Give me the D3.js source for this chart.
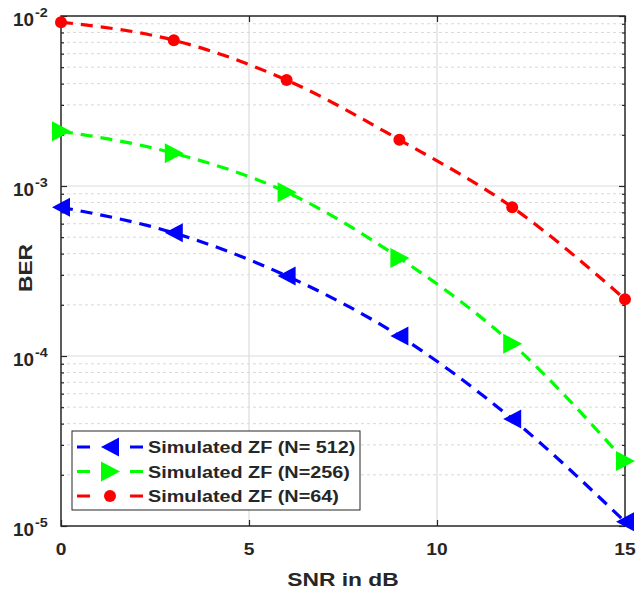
<!DOCTYPE html>
<html>
<head>
<meta charset="utf-8">
<script src="https://cdn.jsdelivr.net/npm/d3@7"></script>
<style>
  html, body { margin: 0; padding: 0; background: #fff; }
  svg { display: block; }
  text { font-family: "Liberation Sans", Arial, sans-serif; font-weight: bold; fill: #262626; }
</style>
</head>
<body>
<svg id="chart" width="638" height="591"></svg>
<script>
// SNR points (dB)
const snr = [0, 3, 6, 9, 12, 15];

// Bit error rate per antenna count
const berN512 = [7.5e-4, 5.3e-4, 2.96e-4, 1.31e-4, 4.26e-5, 1.06e-5];
const berN256 = [2.1e-3, 1.56e-3, 9.2e-4, 3.77e-4, 1.18e-4, 2.41e-5];
const berN64  = [9.2e-3, 7.2e-3, 4.2e-3, 1.87e-3, 7.5e-4, 2.16e-4];

const seriesNames = ["Simulated ZF (N= 512)", "Simulated ZF (N=256)", "Simulated ZF (N=64)"];
const seriesColors = ["#0000ff", "#00ff00", "#ff0000"];
const seriesMarkers = ["left", "right", "circle"];

const xTicks = [0, 5, 10, 15];
const yDecades = [-5, -4, -3, -2];

const series = [berN512, berN256, berN64].map((vals, i) => ({
  name: seriesNames[i], color: seriesColors[i], marker: seriesMarkers[i],
  points: snr.map((s, j) => ({ x: s, y: vals[j] }))
}));

const svg = d3.select("#chart");
const L = 61, R = 625, T = 16, B = 526;
const SX = 1.2; // horizontal stretch of glyphs

const x = d3.scaleLinear().domain([0, 15]).range([L, R]);
const y = d3.scaleLog().domain([1e-5, 1e-2]).range([B, T]);

// stretched text helper
function stext(g, px, py, anchor, size, sx = SX) {
  return g.append("text")
    .attr("transform", `translate(${px},${py}) scale(${sx},1)`)
    .attr("text-anchor", anchor)
    .style("font-size", size + "px");
}

// minor log grid
const minorVals = [];
yDecades.slice(0, -1).forEach(d => {
  for (let k = 2; k <= 9; k++) minorVals.push(k * Math.pow(10, d));
});
const grid = svg.append("g");
grid.selectAll("line.minor").data(minorVals).join("line")
  .attr("x1", L).attr("x2", R)
  .attr("y1", d => y(d)).attr("y2", d => y(d))
  .attr("stroke", "#d9d9d9").attr("stroke-width", 1)
  .attr("stroke-dasharray", "3,3");
// major grid
grid.selectAll("line.majy").data(yDecades.slice(1, -1)).join("line")
  .attr("x1", L).attr("x2", R)
  .attr("y1", d => y(Math.pow(10, d))).attr("y2", d => y(Math.pow(10, d)))
  .attr("stroke", "#dcdcdc").attr("stroke-width", 1.2);
grid.selectAll("line.majx").data(xTicks.slice(1, -1)).join("line")
  .attr("y1", T).attr("y2", B)
  .attr("x1", d => x(d)).attr("x2", d => x(d))
  .attr("stroke", "#dcdcdc").attr("stroke-width", 1.2);

// axes via d3 axis generators (ticks pointing inward)
const axisColor = "#262626";
function styleAxis(g) {
  g.select(".domain").remove();
  g.selectAll(".tick line").attr("stroke", axisColor).attr("stroke-width", 1.2);
  g.selectAll(".tick text").remove();
}
svg.append("g").attr("transform", `translate(0,${B})`)
  .call(d3.axisBottom(x).tickValues(xTicks).tickSize(-6)).call(styleAxis);
svg.append("g").attr("transform", `translate(0,${T})`)
  .call(d3.axisTop(x).tickValues(xTicks).tickSize(-6)).call(styleAxis);
const yMajor = yDecades.map(d => Math.pow(10, d));
svg.append("g").attr("transform", `translate(${L},0)`)
  .call(d3.axisLeft(y).tickValues(yMajor).tickSize(-6)).call(styleAxis);
svg.append("g").attr("transform", `translate(${R},0)`)
  .call(d3.axisRight(y).tickValues(yMajor).tickSize(-6)).call(styleAxis);
svg.append("g").attr("transform", `translate(${L},0)`)
  .call(d3.axisLeft(y).tickValues(minorVals).tickSize(-3)).call(styleAxis);
svg.append("g").attr("transform", `translate(${R},0)`)
  .call(d3.axisRight(y).tickValues(minorVals).tickSize(-3)).call(styleAxis);

// box
svg.append("rect").attr("x", L).attr("y", T).attr("width", R - L).attr("height", B - T)
  .attr("fill", "none").attr("stroke", axisColor).attr("stroke-width", 1.5);

// tick labels
const tl = svg.append("g");
xTicks.forEach(t => {
  stext(tl, x(t), 555, "middle", 16).text(t);
});
yDecades.forEach(d => {
  const yy = y(Math.pow(10, d));
  stext(tl, 34, yy + 10, "end", 18, 1.05).text("10");
  stext(tl, 35, yy + 1, "start", 12.5, 1.15).text(d);
});

// axis titles
stext(svg, (L + R) / 2, 586, "middle", 19).text("SNR in dB");
svg.append("text")
  .attr("transform", `translate(32,268) rotate(-90) scale(${SX},1)`)
  .attr("text-anchor", "middle").style("font-size", "19px").text("BER");

// markers
function drawMarker(g, m, color) {
  if (m === "circle") {
    g.append("circle").attr("r", 6).attr("fill", color);
  } else if (m === "left") {
    g.append("path").attr("d", "M-9,0 L9,-9.5 L9,9.5 Z").attr("fill", color);
  } else {
    g.append("path").attr("d", "M10,0 L-9,-10 L-9,10 Z").attr("fill", color);
  }
}

// series
const line = d3.line().x(d => x(d.x)).y(d => y(d.y)).curve(d3.curveMonotoneX);
series.forEach(s => {
  const g = svg.append("g");
  g.append("path").datum(s.points).attr("d", line)
    .attr("fill", "none").attr("stroke", s.color).attr("stroke-width", 3.2)
    .attr("stroke-dasharray", "12,8");
  s.points.forEach(p => {
    const mg = g.append("g").attr("transform", `translate(${x(p.x)},${y(p.y)})`);
    drawMarker(mg, s.marker, s.color);
  });
});

// legend
const lg = svg.append("g");
lg.append("rect").attr("x", 72).attr("y", 431).attr("width", 288).attr("height", 79)
  .attr("fill", "#fff").attr("stroke", axisColor).attr("stroke-width", 1);
series.forEach((s, i) => {
  const yy = 447 + i * 24.5;
  lg.append("line").attr("x1", 77).attr("x2", 143).attr("y1", yy).attr("y2", yy)
    .attr("stroke", s.color).attr("stroke-width", 3.2).attr("stroke-dasharray", "13,40");
  const mg = lg.append("g").attr("transform", `translate(110,${yy})`);
  drawMarker(mg, s.marker, s.color);
  stext(lg, 148, yy + 6, "start", 16.5, 1.2).text(s.name);
});
</script>
</body>
</html>
